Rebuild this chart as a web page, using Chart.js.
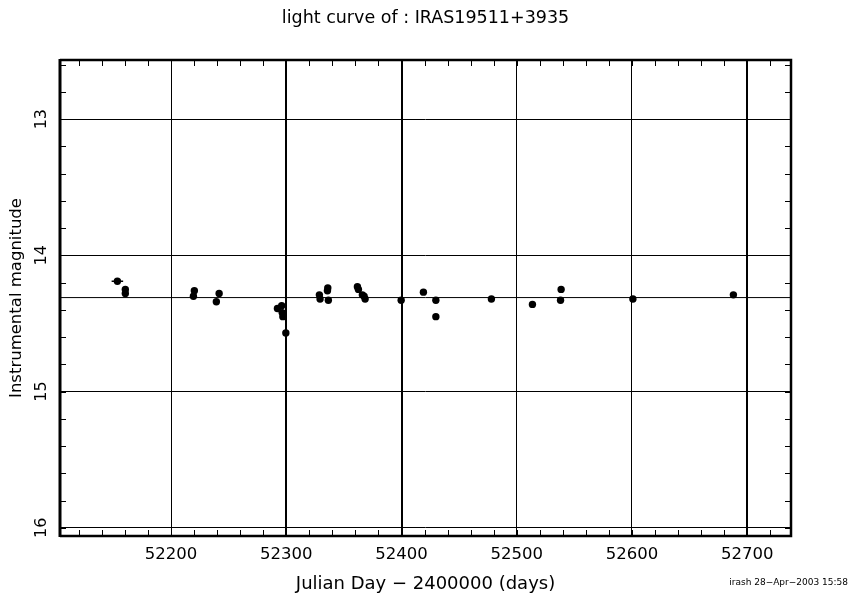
<!DOCTYPE html>
<html><head><meta charset="utf-8">
<script src="https://cdn.jsdelivr.net/npm/chart.js@4"></script>
<style>html,body{margin:0;padding:0;background:#fff}#wrap{width:851px;height:596px;position:relative}</style>
</head><body><div id="wrap"><canvas id="c"></canvas></div>
<script>
// ---- data ----
const titleText = 'light curve of : IRAS19511+3935';
const xTitle = 'Julian Day \u2212 2400000 (days)';
const yTitle = 'Instrumental magnitude';
const footerText = 'irash 28\u2212Apr\u22122003 15:58';

const jd  = [52153.4, 52160.3, 52160.3, 52219.4, 52220.2, 52239.3, 52241.7,
             52292.3, 52296.0, 52296.4, 52297.0, 52299.6,
             52328.7, 52329.3, 52335.7, 52336.0, 52336.5,
             52361.7, 52362.6, 52366.0, 52367.5, 52368.4,
             52399.7, 52419.0, 52429.8, 52429.8, 52478.0, 52513.6,
             52538.0, 52538.5, 52600.8, 52688.0];
const mag = [14.19, 14.25, 14.28, 14.30, 14.26, 14.34, 14.28,
             14.39, 14.37, 14.42, 14.45, 14.57,
             14.29, 14.32, 14.26, 14.24, 14.33,
             14.23, 14.25, 14.29, 14.30, 14.32,
             14.33, 14.27, 14.33, 14.45, 14.32, 14.36,
             14.33, 14.25, 14.32, 14.29];
const errIndex = 0;      // point carrying a horizontal error bar
const errDays = 5;       // half-width of that error bar (days)
const meanMag = 14.31;   // horizontal reference line

const xMin = 52103.6, xMax = 52738;
const yMin = 12.566, yMax = 16.06;
const xMajorTicks = [52200, 52300, 52400, 52500, 52600, 52700];
const xThickLines = [52300, 52400, 52700];
const yMajorTicks = [13, 14, 15, 16];
const xMinorStep = 20, yMinorStep = 0.2;

// ---- chart ----
const FONT = "'DejaVu Sans', sans-serif";
const points = jd.map((x, i) => ({x, y: mag[i]}));

const framePlugin = {
  id: 'frame',
  afterDraw(chart) {
    const {ctx, chartArea: a, scales: {x, y}} = chart;
    ctx.save();
    ctx.strokeStyle = '#000';
    // minor ticks
    ctx.lineWidth = 1;
    ctx.beginPath();
    for (let v = Math.ceil(xMin / xMinorStep) * xMinorStep; v <= xMax; v += xMinorStep) {
      const px = Math.round(x.getPixelForValue(v)) + 0.5;
      ctx.moveTo(px, a.top); ctx.lineTo(px, a.top + 6);
      ctx.moveTo(px, a.bottom); ctx.lineTo(px, a.bottom - 6);
    }
    for (let k = Math.ceil(yMin / yMinorStep); k * yMinorStep <= yMax; k++) {
      const py = Math.round(y.getPixelForValue(k * yMinorStep)) + 0.5;
      ctx.moveTo(a.left, py); ctx.lineTo(a.left + 6, py);
      ctx.moveTo(a.right, py); ctx.lineTo(a.right - 6, py);
    }
    ctx.stroke();
    // frame
    ctx.lineWidth = 3;
    ctx.beginPath(); ctx.moveTo(a.left, a.top - 1); ctx.lineTo(a.left, a.bottom + 1); ctx.stroke();
    ctx.lineWidth = 2.5;
    ctx.beginPath();
    ctx.moveTo(a.left, a.top); ctx.lineTo(a.right, a.top);
    ctx.lineTo(a.right, a.bottom); ctx.lineTo(a.left, a.bottom);
    ctx.stroke();
    // footer
    ctx.fillStyle = '#000';
    ctx.font = "9px " + FONT;
    ctx.textAlign = 'right';
    ctx.textBaseline = 'middle';
    ctx.fillText(footerText, 848, 583);
    ctx.restore();
  }
};

new Chart(document.getElementById('c'), {
  type: 'scatter',
  data: {
    datasets: [
      {
        type: 'line',
        data: [{x: xMin, y: meanMag}, {x: xMax, y: meanMag}],
        borderColor: '#000', borderWidth: 1, pointRadius: 0, fill: false
      },
      {
        type: 'line',
        data: [{x: jd[errIndex] - errDays, y: mag[errIndex]}, {x: jd[errIndex] + errDays, y: mag[errIndex]}],
        borderColor: '#000', borderWidth: 1.5, pointRadius: 0, fill: false
      },
      {
        data: points,
        backgroundColor: '#000', borderColor: '#000', borderWidth: 0,
        pointRadius: 3.7, pointHoverRadius: 3.7
      }
    ]
  },
  options: {
    responsive: true,
    maintainAspectRatio: false,
    animation: false,
    events: [],
    layout: {padding: 0},
    plugins: {
      legend: {display: false},
      tooltip: {enabled: false},
      title: {
        display: true, text: titleText, color: '#000',
        font: {family: FONT, size: 17.5, weight: 'normal', lineHeight: 1.2},
        padding: {top: 8, bottom: 31}
      }
    },
    scales: {
      x: {
        type: 'linear', min: xMin, max: xMax,
        afterBuildTicks: s => { s.ticks = xMajorTicks.map(v => ({value: v})); },
        afterFit: s => { s.height = 60; },
        grid: {
          color: '#000', drawTicks: false,
          lineWidth: c => (c.tick && xThickLines.includes(c.tick.value)) ? 2 : 1
        },
        border: {display: false},
        ticks: {
          color: '#000', font: {family: FONT, size: 16.5}, padding: 9,
          maxRotation: 0, minRotation: 0, autoSkip: false,
          callback: v => String(v)
        },
        title: {
          display: true, text: xTitle, color: '#000',
          font: {family: FONT, size: 18}, padding: {top: 0, bottom: 1}
        }
      },
      y: {
        type: 'linear', reverse: true, min: yMin, max: yMax,
        afterBuildTicks: s => { s.ticks = yMajorTicks.map(v => ({value: v})); },
        afterFit: s => { s.width = 60; },
        grid: {color: '#000', drawTicks: false, lineWidth: 1},
        border: {display: false},
        ticks: {
          color: '#000', font: {family: FONT, size: 16}, padding: 8,
          minRotation: 90, maxRotation: 90, crossAlign: 'center', autoSkip: false,
          callback: v => String(v)
        },
        title: {
          display: true, text: yTitle, color: '#000',
          font: {family: FONT, size: 16.5}, padding: {top: 7, bottom: 0}
        }
      },
      yRight: {
        type: 'linear', position: 'right', min: 0, max: 1,
        afterFit: s => { s.width = 60; },
        grid: {display: false, drawOnChartArea: false},
        border: {display: false},
        ticks: {display: false}
      }
    }
  },
  plugins: [framePlugin]
});
</script>
</body></html>
